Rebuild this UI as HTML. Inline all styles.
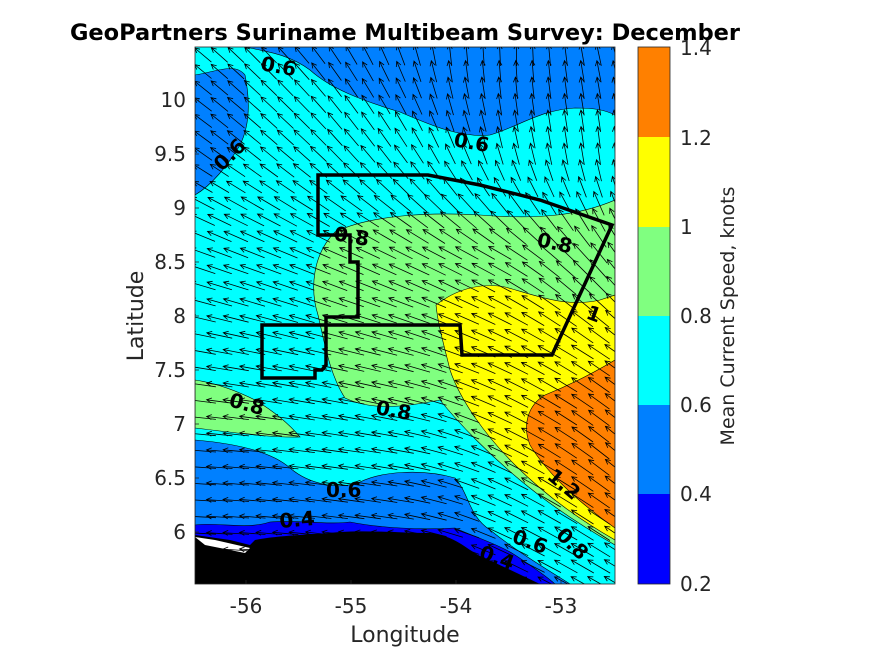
<!DOCTYPE html>
<html><head><meta charset="utf-8"><style>
body{margin:0;background:#fff;width:875px;height:656px;overflow:hidden;font-family:"DejaVu Sans",sans-serif}
</style></head><body>
<svg id="s" width="875" height="656" xmlns="http://www.w3.org/2000/svg" font-family="DejaVu Sans, sans-serif">
<defs><clipPath id="c"><rect x="195" y="47" width="420" height="537"/></clipPath></defs>
<g clip-path="url(#c)" stroke="#000" stroke-width="0.6">
<rect x="195" y="47" width="420" height="537" fill="#00ffff" stroke="none"/>
<path d="M195,75 C215,72 235,62 245,75 C250,100 250,125 240,145 C228,165 212,185 195,195 Z" fill="#0080ff"/>
<path d="M245,47 C270,52 290,55 310,70 C330,88 360,100 400,112 C430,125 460,138 490,135 C520,126 540,110 575,108 C595,108 605,110 615,115 L615,47 Z" fill="#0080ff"/>
<path d="M615,200 C580,215 540,220 480,215 C430,212 370,215 335,232 C312,255 310,290 318,315 C325,345 330,375 345,398 C370,410 400,408 440,400 C460,425 490,455 520,480 C550,505 580,525 615,545 Z" fill="#80ff80"/>
<path d="M195,380 C215,383 235,390 255,400 C275,412 290,425 300,437 C270,438 230,432 195,428 Z" fill="#80ff80"/>
<path d="M436,305 C455,290 480,282 505,287 C535,295 565,308 600,300 L615,295 L615,540 C580,520 545,495 515,465 C485,435 460,400 450,370 C444,345 438,325 436,305 Z" fill="#ffff00"/>
<path d="M615,360 C595,372 570,385 545,395 C528,405 522,425 530,445 C545,470 575,500 615,528 Z" fill="#ff8000"/>
<path d="M195,440 C230,443 270,450 290,468 C310,485 340,490 360,482 C380,472 420,468 455,478 C470,495 468,515 490,530 C515,550 540,565 570,584 L195,584 Z" fill="#0080ff"/>
<path d="M195,525 C220,522 245,530 270,522 C300,520 330,525 350,522 C380,528 420,530 455,528 C470,535 500,545 515,555 C530,565 545,575 555,584 L195,584 Z" fill="#0000ff"/>
<path d="M195,535 L230,540 L250,545 L255,540 C280,535 310,535 340,532 C370,530 400,533 430,533 C455,536 465,548 480,556 C500,565 515,572 540,584 L195,584 Z" fill="#000" stroke="none"/>
<path d="M195,537 L215,540 L250,548 L245,553 L205,545 Z" fill="#fff" stroke="none"/>
<g id="arr" stroke-width="0.8" fill="none"></g>
<path d="M318,175 L428,175 L480,185 L540,200 L612,225 L552,355 L462,355 L460,325 L326,325 L326,317 L358,317 L358,262 L350,262 L350,235 L318,235 Z" fill="none" stroke-width="3.5"/>
<path d="M262,325 L326,325 L326,365 L322,370 L315,370 L315,378 L262,378 Z" fill="none" stroke-width="3.5"/>
</g>
<g font-weight="bold" font-size="20" fill="#000">
<text x="260" y="70" transform="rotate(10 260 70)">0.6</text>
<text x="222" y="172" transform="rotate(-45 222 172)">0.6</text>
<text x="453" y="146" transform="rotate(10 453 146)">0.6</text>
<text x="333" y="240" transform="rotate(10 333 240)">0.8</text>
<text x="536" y="246" transform="rotate(12 536 246)">0.8</text>
<text x="585" y="318" transform="rotate(20 585 318)">1</text>
<text x="228" y="406" transform="rotate(15 228 406)">0.8</text>
<text x="375" y="414" transform="rotate(10 375 414)">0.8</text>
<text x="326" y="497">0.6</text>
<text x="280" y="528" transform="rotate(-5 280 528)">0.4</text>
<text x="546" y="478" transform="rotate(40 546 478)">1.2</text>
<text x="511" y="542" transform="rotate(20 511 542)">0.6</text>
<text x="555" y="536" transform="rotate(45 555 536)">0.8</text>
<text x="478" y="558" transform="rotate(20 478 558)">0.4</text>
</g>
<rect x="195" y="47" width="420" height="537" fill="none" stroke="#262626" stroke-width="0.8"/>
<g stroke="#262626" stroke-width="0.8">
<line x1="246" y1="584" x2="246" y2="580"/><line x1="351" y1="584" x2="351" y2="580"/><line x1="456" y1="584" x2="456" y2="580"/><line x1="561" y1="584" x2="561" y2="580"/>
<line x1="195" y1="100" x2="199" y2="100"/><line x1="195" y1="154" x2="199" y2="154"/><line x1="195" y1="208" x2="199" y2="208"/><line x1="195" y1="262" x2="199" y2="262"/><line x1="195" y1="316" x2="199" y2="316"/><line x1="195" y1="370" x2="199" y2="370"/><line x1="195" y1="424" x2="199" y2="424"/><line x1="195" y1="478" x2="199" y2="478"/><line x1="195" y1="532" x2="199" y2="532"/>
</g>
<g font-size="20" fill="#262626" text-anchor="middle">
<text x="246" y="613">-56</text><text x="351" y="613">-55</text><text x="456" y="613">-54</text><text x="561" y="613">-53</text>
<text x="405" y="642" font-size="22">Longitude</text>
</g>
<g font-size="20" fill="#262626" text-anchor="end">
<text x="186" y="107">10</text><text x="186" y="161">9.5</text><text x="186" y="215">9</text><text x="186" y="269">8.5</text><text x="186" y="323">8</text><text x="186" y="377">7.5</text><text x="186" y="431">7</text><text x="186" y="485">6.5</text><text x="186" y="539">6</text>
</g>
<text x="143" y="316" font-size="22" fill="#262626" text-anchor="middle" transform="rotate(-90 143 316)">Latitude</text>
<text x="405" y="40" font-size="22.5" font-weight="bold" text-anchor="middle">GeoPartners Suriname Multibeam Survey: December</text>
<rect x="638" y="47" width="32" height="90" fill="#ff8000"/>
<rect x="638" y="137" width="32" height="90" fill="#ffff00"/>
<rect x="638" y="227" width="32" height="89" fill="#80ff80"/>
<rect x="638" y="316" width="32" height="89" fill="#00ffff"/>
<rect x="638" y="405" width="32" height="89" fill="#0080ff"/>
<rect x="638" y="494" width="32" height="90" fill="#0000ff"/>
<rect x="638" y="47" width="32" height="537" fill="none" stroke="#262626" stroke-width="0.8"/>
<g font-size="20" fill="#262626">
<text x="680" y="55">1.4</text><text x="680" y="145">1.2</text><text x="680" y="234">1</text><text x="680" y="323">0.8</text><text x="680" y="412">0.6</text><text x="680" y="501">0.4</text><text x="680" y="591">0.2</text>
</g>
<text x="734" y="316" font-size="19" fill="#262626" text-anchor="middle" transform="rotate(-90 734 316)">Mean Current Speed, knots</text>
</svg>
<script>
function interp(pts,x){if(x<=pts[0][0])return pts[0][1];for(var i=1;i<pts.length;i++){if(x<=pts[i][0]){var t=(x-pts[i-1][0])/(pts[i][0]-pts[i-1][0]);return pts[i-1][1]+t*(pts[i][1]-pts[i-1][1]);}}return pts[pts.length-1][1];}
var rows=[[47,[[195,40],[300,50],[400,70],[450,85],[520,90],[615,75]]],
[150,[[195,35],[300,42],[400,55],[500,75],[615,85]]],
[250,[[195,20],[350,25],[500,30],[615,55]]],
[350,[[195,10],[400,15],[500,25],[615,35]]],
[450,[[195,4],[400,10],[500,25],[615,40]]],
[590,[[195,2],[400,8],[500,25],[615,30]]]];
function ang(x,y){for(var i=1;i<rows.length;i++){if(y<=rows[i][0]){var t=(y-rows[i-1][0])/(rows[i][0]-rows[i-1][0]);return interp(rows[i-1][1],x)*(1-t)+interp(rows[i][1],x)*t;}}return interp(rows[rows.length-1][1],x);}
var g=document.getElementById('arr'),h='';
for(var y=55;y<590;y+=16.5){for(var x=203;x<625;x+=16.5){
var a=ang(x,y)*Math.PI/180;
var L=(y<200?22:26);
var ux=-Math.cos(a),uy=-Math.sin(a);
var x1=x-ux*L/2,y1=y-uy*L/2,x2=x+ux*L/2,y2=y+uy*L/2;
var hs=5,px=-uy,py=ux;
h+='<path d="M'+x1.toFixed(1)+','+y1.toFixed(1)+'L'+x2.toFixed(1)+','+y2.toFixed(1)+'M'+(x2-ux*hs+px*2.5).toFixed(1)+','+(y2-uy*hs+py*2.5).toFixed(1)+'L'+x2.toFixed(1)+','+y2.toFixed(1)+'L'+(x2-ux*hs-px*2.5).toFixed(1)+','+(y2-uy*hs-py*2.5).toFixed(1)+'"/>';
}}
g.innerHTML=h;
</script>
</body></html>
